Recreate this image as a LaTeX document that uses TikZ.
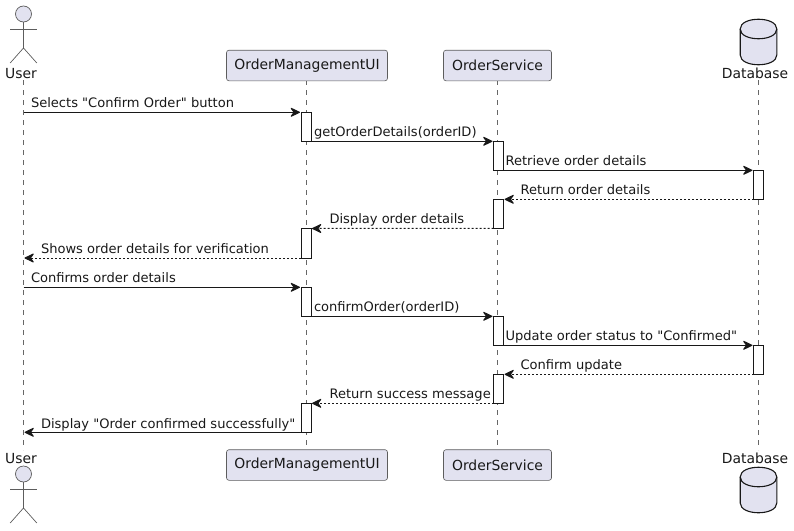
\documentclass[tikz,border=0pt]{standalone}
\usepackage{fontspec}
\newfontfamily\dvsans{DejaVu Sans}
\usetikzlibrary{arrows.meta}
\definecolor{partfill}{HTML}{E2E2F0}
\definecolor{ink}{HTML}{181818}
\definecolor{lifegray}{HTML}{666666}
\tikzset{
  x=1pt,y=-1pt,
  every node/.style={text=ink,outer sep=0pt},
  bigtext/.style={font=\dvsans\fontsize{13.9}{16}\selectfont},
  partbox/.style={bigtext,draw=ink!70,line width=0.6pt,fill=partfill,rounded corners=2.5pt,minimum height=30.6pt,inner sep=0pt,anchor=center},
  msglabel/.style={font=\dvsans\fontsize{13.05}{15}\selectfont,inner sep=0pt,anchor=base west},
  actlabel/.style={bigtext,inner sep=0pt,anchor=base},
  lifeline/.style={draw=lifegray,line width=0.55pt,dash pattern=on 5pt off 5pt},
  actbar/.style={draw=ink,fill=white,line width=1pt,minimum width=10pt,inner sep=0pt,anchor=north,rectangle},
  msg/.style={draw=ink,line width=1pt,shorten >=1pt,-{Stealth[length=11pt,width=10.5pt,inset=3.8pt,round]}},
  reply/.style={msg,dash pattern=on 2pt off 2pt},
  actorline/.style={draw=ink!70,line width=0.7pt},
  actorhead/.style={draw=ink!70,line width=0.7pt,fill=partfill},
  dbshape/.style={draw=ink,line width=1.1pt,fill=partfill},
}
\newcommand{\actorfig}[2]{% x, head y
  \draw[actorhead] (#1,#2) circle (8);
  \draw[actorline] (#1,#2+8) -- (#1,#2+34);
  \draw[actorline] (#1-13.3,#2+15) -- (#1+13.3,#2+15);
  \draw[actorline] (#1-13.3,#2+49) -- (#1,#2+34) -- (#1+13.3,#2+49);
}
\newcommand{\dbfig}[2]{% centre x, top y
  \draw[dbshape] (#1-18.3,#2+10) .. controls (#1-18.3,#2-3) and (#1+18.3,#2-3) .. (#1+18.3,#2+10)
    -- (#1+18.3,#2+36) .. controls (#1+18.3,#2+49) and (#1-18.3,#2+49) .. (#1-18.3,#2+36) -- cycle;
  \draw[dbshape,fill=none] (#1-18.3,#2+10) .. controls (#1-18.3,#2+23) and (#1+18.3,#2+23) .. (#1+18.3,#2+10);
}
\begin{document}
\begin{tikzpicture}
\useasboundingbox (0,0) rectangle (794,530);
% lifeline ends
\coordinate (uT) at (23.5,80); \coordinate (uB) at (23.5,450);
\coordinate (oT) at (306.5,80); \coordinate (oB) at (306.5,450);
\coordinate (sT) at (497.5,80); \coordinate (sB) at (497.5,450);
\coordinate (dT) at (758.5,80); \coordinate (dB) at (758.5,450);
\draw[lifeline] (uT) -- (uB);
\draw[lifeline] (oT) -- (oB);
\draw[lifeline] (sT) -- (sB);
\draw[lifeline] (dT) -- (dB);
% actor and database figures
\actorfig{23.5}{14}
\actorfig{23.5}{474}
\dbfig{758.5}{19}
\dbfig{758.5}{467}
\node[actlabel] (userTop) at (21,78) {User};
\node[actlabel] (userBot) at (21,463) {User};
\node[actlabel] (dbTop) at (755,78) {Database};
\node[actlabel] (dbBot) at (755,463) {Database};
% participant boxes
\node[partbox,minimum width=161pt] (oTop) at (307,65.5) {OrderManagementUI};
\node[partbox,minimum width=161pt] (oBot) at (307,465) {OrderManagementUI};
\node[partbox,minimum width=108pt] (sTop) at (497.5,65.5) {OrderService};
\node[partbox,minimum width=108pt] (sBot) at (497.5,465) {OrderService};
% activation bars
\node[actbar,minimum height=29pt] (a1) at (306,112.3) {};
\node[actbar,minimum height=29pt] (a2) at (498.5,141.3) {};
\node[actbar,minimum height=29pt] (a3) at (758.5,170.3) {};
\node[actbar,minimum height=29pt] (a4) at (498.5,199.3) {};
\node[actbar,minimum height=29.5pt] (a5) at (306,228.5) {};
\node[actbar,minimum height=29pt] (a6) at (306,287.3) {};
\node[actbar,minimum height=29pt] (a7) at (498.5,316.3) {};
\node[actbar,minimum height=29pt] (a8) at (758.5,345.3) {};
\node[actbar,minimum height=29pt] (a9) at (498.5,374.3) {};
\node[actbar,minimum height=29pt] (a10) at (306,403.3) {};
% free ends of connectors on the user lifeline
\coordinate (u1) at (23.5,112.3);
\coordinate (u2) at (23.5,258);
\coordinate (u3) at (23.5,287.3);
\coordinate (u4) at (23.5,432.3);
% messages
\draw[msg] (u1) -- (a1.north west);
\draw[msg] (a1.south east) -- (a2.north west);
\draw[msg] (a2.south east) -- (a3.north west);
\draw[reply] (a3.south west) -- (a4.north east);
\draw[reply] (a4.south west) -- (a5.north east);
\draw[reply] (a5.south west) -- (u2);
\draw[msg] (u3) -- (a6.north west);
\draw[msg] (a6.south east) -- (a7.north west);
\draw[msg] (a7.south east) -- (a8.north west);
\draw[reply] (a8.south west) -- (a9.north east);
\draw[reply] (a9.south west) -- (a10.north east);
\draw[msg] (a10.south west) -- (u4);
% message labels
\node[msglabel] (t1) at (31,107.5) {Selects "Confirm Order" button};
\node[msglabel] (t2) at (314,136.5) {getOrderDetails(orderID)};
\node[msglabel] (t3) at (505.5,165.5) {Retrieve order details};
\node[msglabel] (t4) at (520.5,194.5) {Return order details};
\node[msglabel] (t5) at (329.5,223.5) {Display order details};
\node[msglabel] (t6) at (41,253) {Shows order details for verification};
\node[msglabel] (t7) at (31,282.5) {Confirms order details};
\node[msglabel] (t8) at (314,311.5) {confirmOrder(orderID)};
\node[msglabel] (t9) at (505.5,340.5) {Update order status to "Confirmed"};
\node[msglabel] (t10) at (520.5,369.5) {Confirm update};
\node[msglabel] (t11) at (329.5,398.5) {Return success message};
\node[msglabel] (t12) at (41,428) {Display "Order confirmed successfully"};
\end{tikzpicture}
\end{document}
